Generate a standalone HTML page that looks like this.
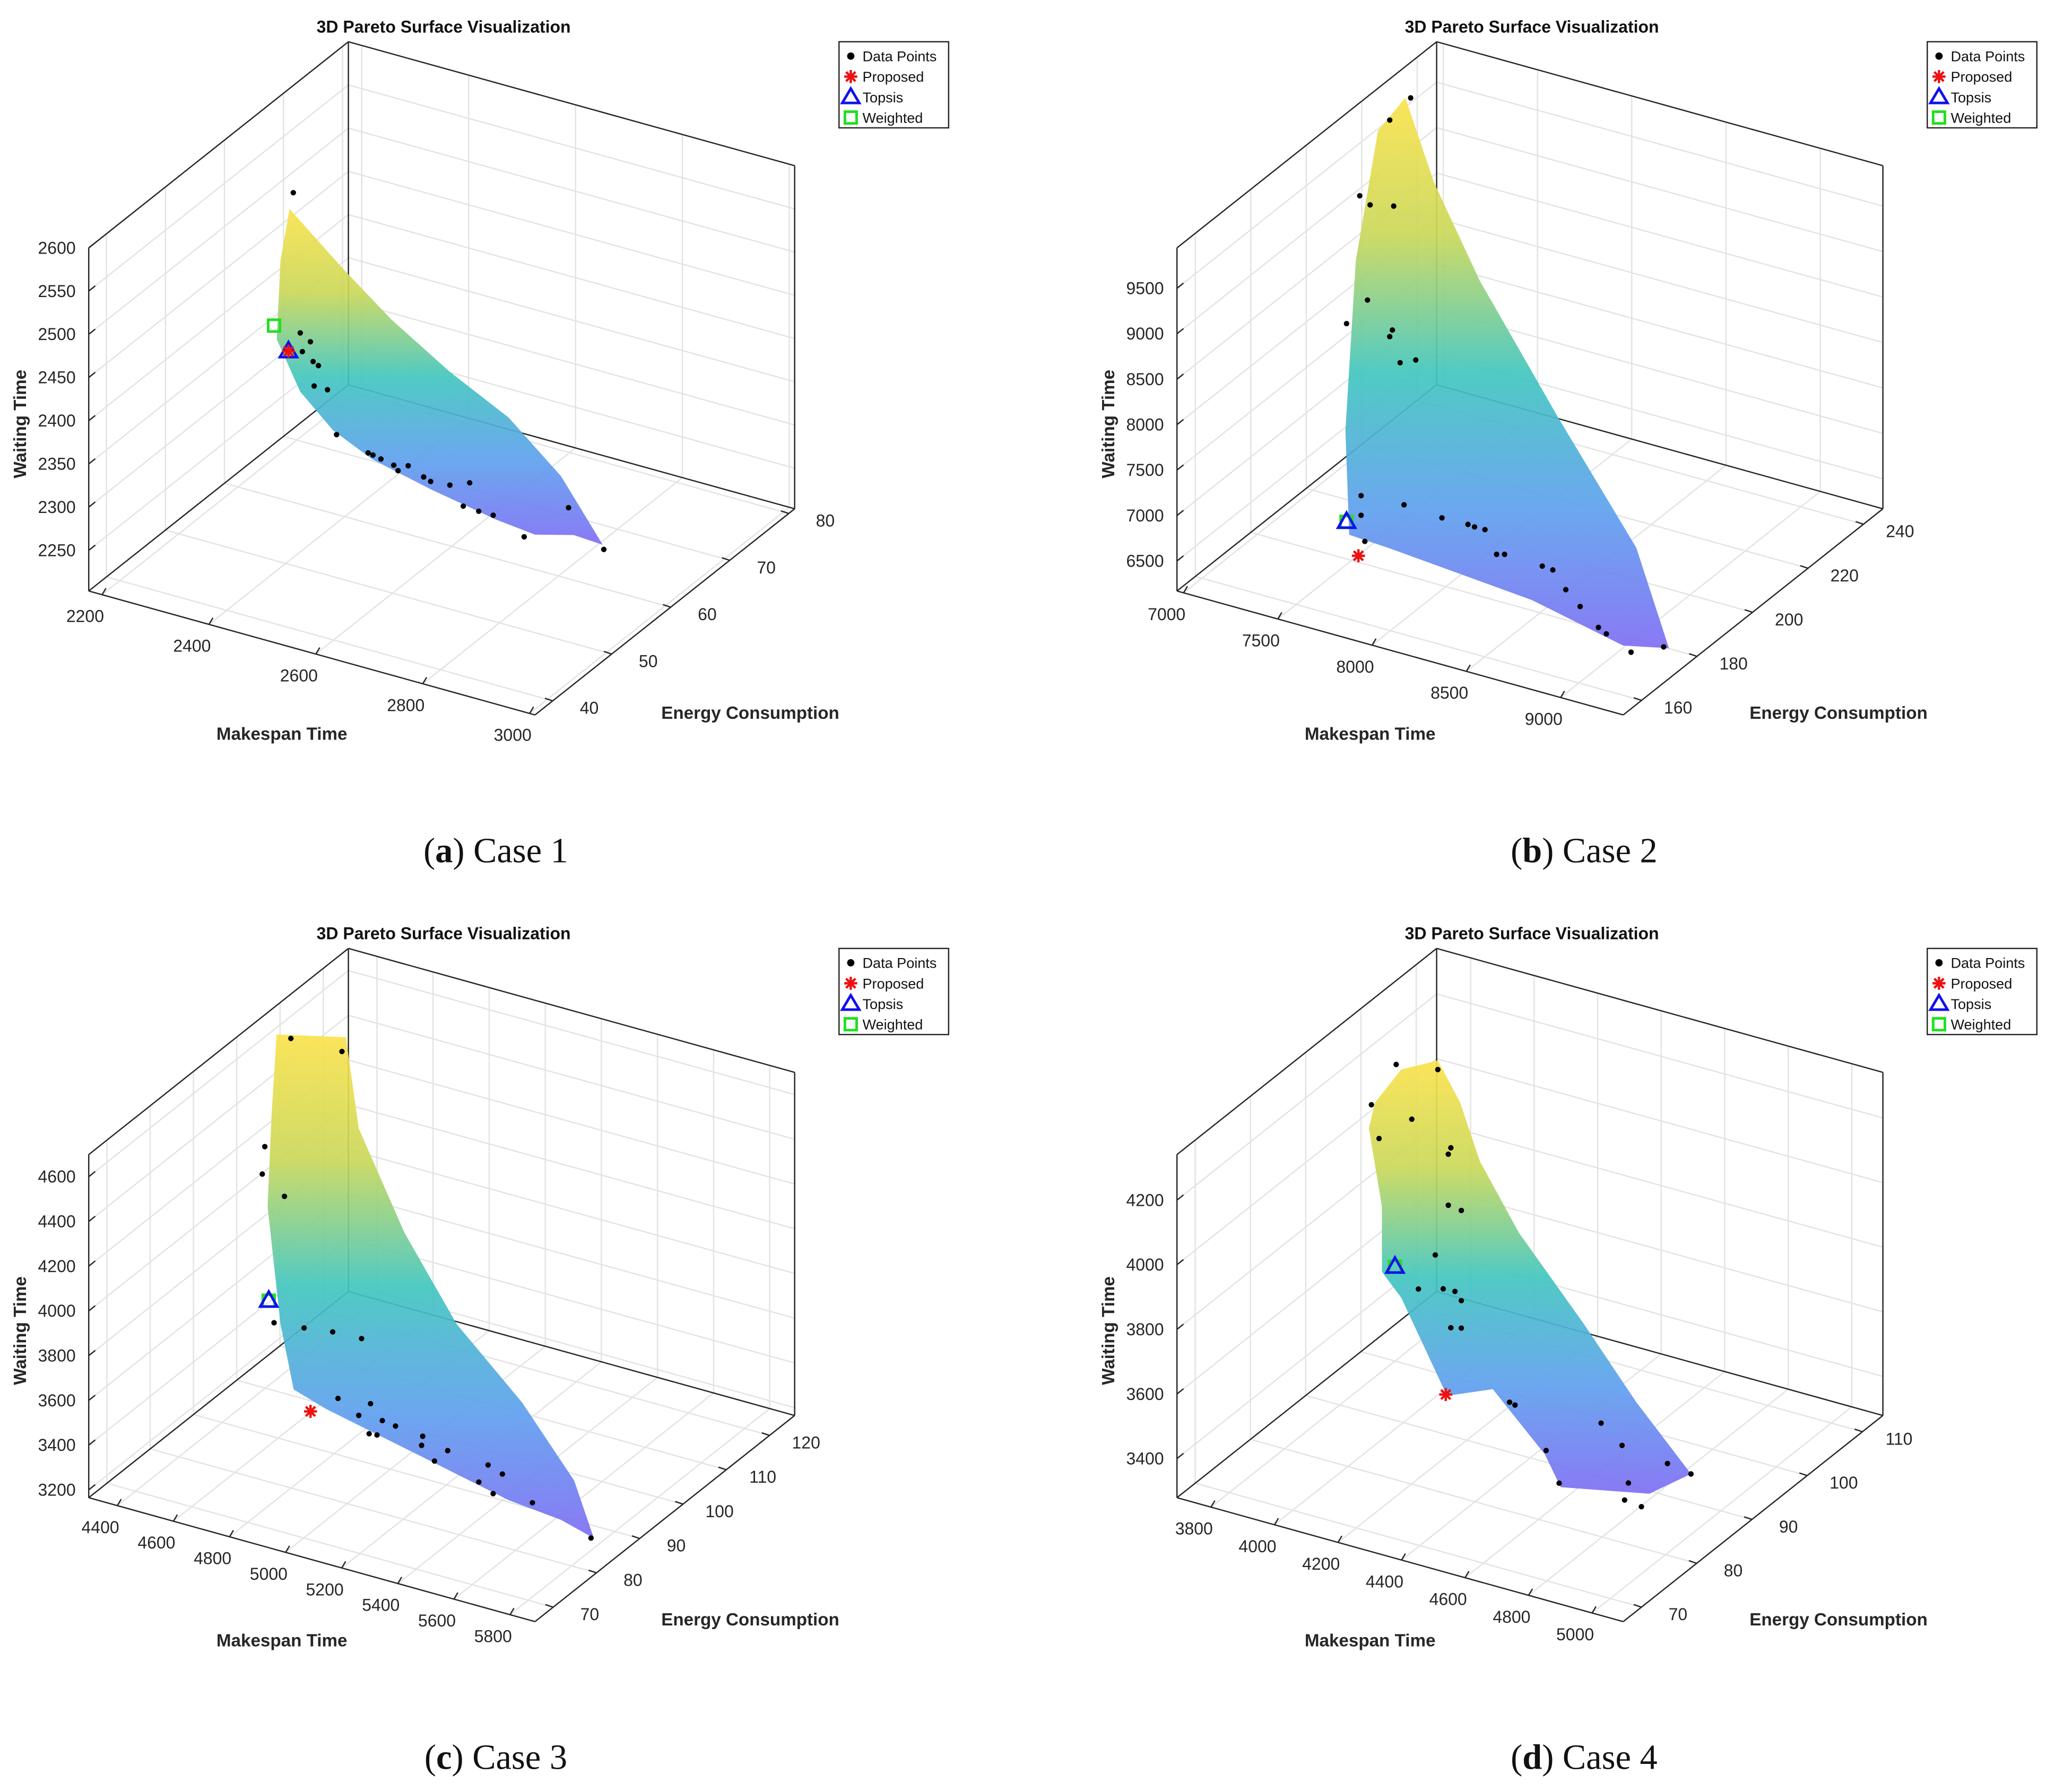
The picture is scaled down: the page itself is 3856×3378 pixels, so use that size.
<!DOCTYPE html>
<html><head><meta charset="utf-8"><style>
html,body{margin:0;padding:0;background:#fff;}
svg{display:block;}
text{font-family:"Liberation Sans",Arial,sans-serif;}
</style></head>
<body>
<svg id="fig" xmlns="http://www.w3.org/2000/svg" width="3856" height="3378" viewBox="0 0 1568 1373.6" preserveAspectRatio="none">
<defs>
<linearGradient id="surfGrad" x1="0" y1="0" x2="0" y2="1">
<stop offset="0" stop-color="#fbe24c"/>
<stop offset="0.25" stop-color="#c9d85a"/>
<stop offset="0.5" stop-color="#42c6bf"/>
<stop offset="0.75" stop-color="#5fa0ee"/>
<stop offset="1" stop-color="#7f6ef4"/>
</linearGradient>
</defs>
</svg>
<script>
// ---- data ----
const aMake = [2412,2425,2444,2429,2449,2459,2451,2476,2493,2552,2561,2576,2600,2608,2627,2656,2669,2705,2730,2742,2759,2786,2844,2927,2993];
const aWait = [2633,2473,2466,2452,2444,2441,2416,2416,2367,2356,2355,2353,2350,2345,2354,2346,2343,2345,2325,2354,2324,2324,2309,2357,2320];
const aSurfMake = [2405,2430,2503,2595,2705,2815,2913,2991,2937,2864,2791,2669,2559,2486,2425,2381,2388];
const aSurfWait = [2613,2600,2562,2518,2476,2442,2391,2325,2327,2315,2320,2334,2350,2371,2405,2458,2550];
const aProposed = [2403,2448];
const aTopsis = [2403,2448];
const aWeighted = [2376,2473];

const bMake = [7791,7680,7521,7576,7701,7562,7451,7694,7680,7735,7818,7528,7548,7756,7957,8095,8130,8185,8247,8289,8489,8545,8614,8690,8787,8829,8960,9133,7528];
const bWait = [11390,11082,10158,10089,10148,9034,8711,8780,8700,8444,8522,6646,6371,6893,6865,6873,6865,6867,6631,6655,6641,6631,6454,6312,6138,6091,5965,6123,6862];
const bSurfMake = [7763,7915,8157,8573,8988,9161,8918,8434,7673,7465,7445,7500,7618];
const bSurfWait = [11375,10530,9592,8325,7130,6124,6014,6236,6371,6395,7532,9429,10931];
const bProposed = [7514,6193];
const bTopsis = [7451,6530];
const bWeighted = [7451,6530];

const cMake = [4741,4923,4648,4639,4718,4681,4788,4890,4993,4909,5025,4983,5067,5114,5020,5048,5211,5207,5300,5253,5444,5495,5411,5462,5602,5811];
const cWait = [5096,5101,4580,4454,4382,3804,3818,3836,3842,3545,3562,3495,3501,3493,3426,3430,3481,3439,3448,3385,3434,3411,3346,3312,3320,3235];
const cSurfMake = [4690,4937,4983,5146,5332,5565,5751,5821,5704,5518,5239,4867,4751,4704,4658,4672];
const cSurfWait = [5096,5170,4778,4368,4025,3756,3471,3238,3279,3302,3380,3483,3530,3806,4315,4728];
const cProposed = [4811,3453];
const cTopsis = [4662,3896];
const cWeighted = [4662,3896];

const dMake = [4138,4269,4060,4187,4084,4310,4302,4302,4343,4261,4323,4286,4208,4343,4310,4343,4495,4512,4610,4783,4849,4651,4869,4857,4910,4992,5066];
const dWait = [4550,4570,4404,4394,4306,4339,4317,4159,4154,3994,3898,3896,3874,3875,3782,3790,3602,3598,3484,3616,3565,3394,3454,3398,3392,3548,3536];
const dSurfMake = [4072,4154,4269,4339,4401,4524,4729,4894,5066,4935,4656,4606,4442,4298,4154,4093,4093,4052];
const dSurfWait = [4415,4539,4598,4488,4323,4135,3908,3711,3536,3439,3383,3471,3628,3568,3832,3896,4098,4329];
const dProposed = [4294,3571];
const dTopsis = [4134,3923];
const dWeighted = [4134,3923];

const aMakeTicks = [2200,2400,2600,2800,3000];
const aEnergyTicks = [40,50,60,70,80];
const aWaitTicks = [2250,2300,2350,2400,2450,2500,2550,2600];
const bMakeTicks = [7000,7500,8000,8500,9000];
const bEnergyTicks = [160,180,200,220,240];
const bWaitTicks = [6500,7000,7500,8000,8500,9000,9500];
const cMakeTicks = [4400,4600,4800,5000,5200,5400,5600,5800];
const cEnergyTicks = [70,80,90,100,110,120];
const cWaitTicks = [3200,3400,3600,3800,4000,4200,4400,4600];
const dMakeTicks = [3800,4000,4200,4400,4600,4800,5000];
const dEnergyTicks = [70,80,90,100,110];
const dWaitTicks = [3400,3600,3800,4000,4200];

const panels = [
 {key:'a',caseNo:1,ox:0,oy:0,mR:[2175,3010],eR:[37,81],wR:[2203,2600],energy:50.2,make:aMake,wait:aWait,sm:aSurfMake,sw:aSurfWait,prop:aProposed,tops:aTopsis,wgt:aWeighted,mt:aMakeTicks,et:aEnergyTicks,wt:aWaitTicks},
 {key:'b',caseNo:2,ox:834,oy:0,mR:[6965,9332],eR:[153.4,247],wR:[6170,9945],energy:181.5,make:bMake,wait:bWait,sm:bSurfMake,sw:bSurfWait,prop:bProposed,tops:bTopsis,wgt:bWeighted,mt:bMakeTicks,et:bEnergyTicks,wt:bWaitTicks},
 {key:'c',caseNo:3,ox:0,oy:695,mR:[4298,5889],eR:[65.8,125.8],wR:[3165,4699],energy:83.8,make:cMake,wait:cWait,sm:cSurfMake,sw:cSurfWait,prop:cProposed,tops:cTopsis,wgt:cWeighted,mt:cMakeTicks,et:cEnergyTicks,wt:cWaitTicks},
 {key:'d',caseNo:4,ox:834,oy:695,mR:[3693,5098],eR:[66.7,113.7],wR:[3279,4341],energy:80.8,make:dMake,wait:dWait,sm:dSurfMake,sw:dSurfWait,prop:dProposed,tops:dTopsis,wgt:dWeighted,mt:dMakeTicks,et:dEnergyTicks,wt:dWaitTicks}
];

const NS = 'http://www.w3.org/2000/svg';
const svg = document.getElementById('fig');
function mk(tag, attrs, parent){
  const el = document.createElementNS(NS, tag);
  for (const k in attrs) el.setAttribute(k, attrs[k]);
  parent.appendChild(el);
  return el;
}
function proj(p, m, e, w){
  const fm = (m - p.mR[0])/(p.mR[1]-p.mR[0]);
  const fe = (e - p.eR[0])/(p.eR[1]-p.eR[0]);
  const fw = (w - p.wR[0])/(p.wR[1]-p.wR[0]);
  return [p.ox + 68 + fm*342 + fe*199, p.oy + 453 + fm*95 - fe*158 - fw*263];
}
function line(g, a, b, stroke, sw){
  return mk('line',{x1:a[0],y1:a[1],x2:b[0],y2:b[1],stroke:stroke,'stroke-width':sw},g);
}

panels.forEach(p=>{
  const g = mk('g',{},svg);
  
  
  const m0=p.mR[0], m1=p.mR[1], e0=p.eR[0], e1=p.eR[1], w0=p.wR[0], w1=p.wR[1];
  // grid
  const grid = mk('g',{},g);
  
  
  const gc='#e3e3e3';
  p.wt.forEach(w=>{
    line(grid, proj(p,m0,e0,w), proj(p,m0,e1,w), gc, 1);
    line(grid, proj(p,m0,e1,w), proj(p,m1,e1,w), gc, 1);
  });
  p.mt.forEach(m=>{
    line(grid, proj(p,m,e1,w0), proj(p,m,e1,w1), gc, 1);
    line(grid, proj(p,m,e0,w0), proj(p,m,e1,w0), gc, 1);
  });
  p.et.forEach(e=>{
    line(grid, proj(p,m0,e,w0), proj(p,m0,e,w1), gc, 1);
    line(grid, proj(p,m0,e,w0), proj(p,m1,e,w0), gc, 1);
  });
  // box edges
  const box = mk('g',{},g);
  
  
  const bc='#262626';
  const A=proj(p,m0,e0,w0),B=proj(p,m0,e1,w0),C=proj(p,m1,e1,w0),D=proj(p,m1,e0,w0);
  const A2=proj(p,m0,e0,w1),B2=proj(p,m0,e1,w1),C2=proj(p,m1,e1,w1);
  [[A,B],[B,C],[A,D],[D,C],[A,A2],[B,B2],[C,C2],[A2,B2],[B2,C2]].forEach(s=>line(box,s[0],s[1],bc,1));
  // ticks and labels
  const tl = mk('g',{'font-size':13,fill:'#262626'},g);
  
  
  p.wt.forEach(w=>{
    const q=proj(p,m0,e0,w);
    line(tl,q,[q[0]+5,q[1]-4],bc,1);
    const t=mk('text',{x:q[0]-10,y:q[1]+4.5,'text-anchor':'end'},tl); t.textContent=w;
  });
  p.mt.forEach(m=>{
    const q=proj(p,m,e0,w0);
    line(tl,q,[q[0]+3,q[1]-5],bc,1);
    const t=mk('text',{x:q[0]-13,y:q[1]+21,'text-anchor':'middle'},tl); t.textContent=m;
  });
  p.et.forEach(e=>{
    const q=proj(p,m1,e,w0);
    line(tl,q,[q[0]-6,q[1]-2],bc,1);
    const t=mk('text',{x:q[0]+28,y:q[1]+10,'text-anchor':'middle'},tl); t.textContent=e;
  });
  // surface
  const pts = p.sm.map((m,i)=>proj(p,m,p.energy,p.sw[i]).join(',')).join(' ');
  const surf = mk('polygon',{points:pts,fill:'url(#surfGrad)','fill-opacity':0.92,stroke:'none'},g);
  
  
  // data points
  const dp = mk('g',{fill:'#000'},g);
  
  
  p.make.forEach((m,i)=>{
    const q=proj(p,m,p.energy,p.wait[i]);
    const c=mk('circle',{cx:q[0],cy:q[1],r:2.1},dp);
    
    
  });
  // weighted
  let q=proj(p,p.wgt[0],p.energy,p.wgt[1]);
  const sq=mk('rect',{x:q[0]-4.5,y:q[1]-4.5,width:9,height:9,fill:'none',stroke:'#1fe01f','stroke-width':2},g);
  
  
  // topsis
  q=proj(p,p.tops[0],p.energy,p.tops[1]);
  const tri=mk('polygon',{points:`${q[0]},${q[1]-7} ${q[0]-6.5},${q[1]+4.5} ${q[0]+6.5},${q[1]+4.5}`,fill:'none',stroke:'#1010ee','stroke-width':2},g);
  
  
  // proposed
  q=proj(p,p.prop[0],p.energy,p.prop[1]);
  const st=mk('g',{stroke:'#ee1111','stroke-width':1.8},g);
  
  
  line(st,[q[0]-5,q[1]],[q[0]+5,q[1]],'#ee1111',1.8);
  line(st,[q[0],q[1]-5],[q[0],q[1]+5],'#ee1111',1.8);
  line(st,[q[0]-3.6,q[1]-3.6],[q[0]+3.6,q[1]+3.6],'#ee1111',1.8);
  line(st,[q[0]-3.6,q[1]+3.6],[q[0]+3.6,q[1]-3.6],'#ee1111',1.8);
  // titles
  const title=mk('text',{x:p.ox+340,y:p.oy+25,'text-anchor':'middle','font-size':13,'font-weight':'bold',fill:'#111'},g);
  title.textContent='3D Pareto Surface Visualization';
  
  
  const xt=mk('text',{x:p.ox+216,y:p.oy+567,'text-anchor':'middle','font-size':13.5,'font-weight':'bold',fill:'#262626'},g);
  xt.textContent='Makespan Time';
  
  
  const et=mk('text',{x:p.ox+575,y:p.oy+551,'text-anchor':'middle','font-size':13.5,'font-weight':'bold',fill:'#262626'},g);
  et.textContent='Energy Consumption';
  
  
  const wtt=mk('text',{x:0,y:0,'text-anchor':'middle','font-size':13.5,'font-weight':'bold',fill:'#262626',transform:`translate(${p.ox+20},${p.oy+325}) rotate(-90)`},g);
  wtt.textContent='Waiting Time';
  
  
  // legend
  const lg=mk('g',{'font-size':11,fill:'#111'},g);
  
  
  mk('rect',{x:p.ox+643,y:p.oy+32,width:84,height:66,fill:'#fff',stroke:'#262626','stroke-width':1},lg);
  const lx=p.ox+652, ly=p.oy;
  const names=['Data Points','Proposed','Topsis','Weighted'];
  names.forEach((n,i)=>{
    const t=mk('text',{x:p.ox+661,y:ly+47+i*15.7},lg); t.textContent=n;
    
    
  });
  mk('circle',{cx:lx,cy:ly+43,r:2.8,fill:'#000'},lg);
  const y2=ly+58.7;
  line(lg,[lx-5,y2],[lx+5,y2],'#ee1111',1.8);line(lg,[lx,y2-5],[lx,y2+5],'#ee1111',1.8);
  line(lg,[lx-3.6,y2-3.6],[lx+3.6,y2+3.6],'#ee1111',1.8);line(lg,[lx-3.6,y2+3.6],[lx+3.6,y2-3.6],'#ee1111',1.8);
  const y3=ly+74.4;
  mk('polygon',{points:`${lx},${y3-6.5} ${lx-6.5},${y3+4.5} ${lx+6.5},${y3+4.5}`,fill:'none',stroke:'#1010ee','stroke-width':2},lg);
  const y4=ly+90.1;
  mk('rect',{x:lx-4.5,y:y4-4.5,width:9,height:9,fill:'none',stroke:'#1fe01f','stroke-width':2},lg);
  // caption
  const cap=mk('text',{x:p.ox+380,y:p.oy+661,'text-anchor':'middle','font-size':27,fill:'#111',style:'font-family:"Liberation Serif",serif'},g);
  
  
  const s1=mk('tspan',{},cap); s1.textContent='(';
  const s2=mk('tspan',{'font-weight':'bold'},cap); s2.textContent=p.key;
  const s3=mk('tspan',{},cap); s3.textContent=') Case '+p.caseNo;
});
</script>
</body></html>
